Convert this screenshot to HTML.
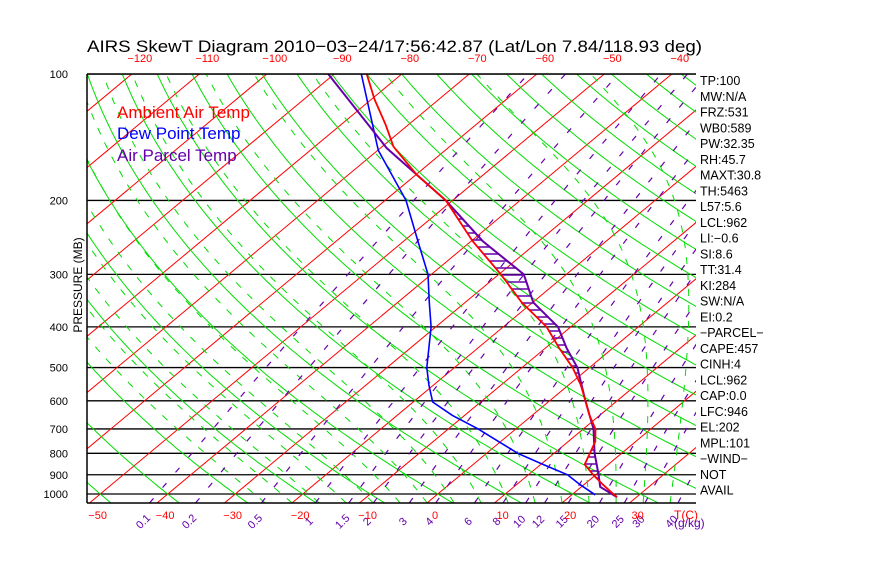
<!DOCTYPE html>
<html><head><meta charset="utf-8"><style>
body{margin:0;background:#fff}
svg text{font-family:"Liberation Sans",sans-serif}
</style></head><body>
<svg id="c" width="870" height="560" xmlns="http://www.w3.org/2000/svg">
<rect width="870" height="560" fill="#fff"/>
<defs><clipPath id="pc"><rect x="87" y="74" width="609" height="429"/></clipPath></defs>
<text x="87" y="52" font-size="17" textLength="615" lengthAdjust="spacingAndGlyphs">AIRS SkewT Diagram 2010−03−24/17:56:42.87 (Lat/Lon 7.84/118.93 deg)</text>
<g id="bg" clip-path="url(#pc)"></g>
<g id="prof" clip-path="url(#pc)"></g>
<g id="axes"></g>
<text x="117" y="118" font-size="17" fill="#f00">Ambient Air Temp</text>
<text x="117" y="139" font-size="17" fill="#00f">Dew Point Temp</text>
<text x="117" y="161" font-size="17" fill="#60a">Air Parcel Temp</text>
<text transform="translate(82,285) rotate(-90)" font-size="12" text-anchor="middle">PRESSURE (MB)</text>
</svg>
<script>
const envP=[1017,1000,950,900,850,800,750,700,650,600,550,500,450,400,350,300,250,200,174,149,132,115,100];
const envT=[27.1,26,22.8,19.6,16.5,15.3,14,11.8,8.5,5.3,1.8,-2.5,-7.9,-13.6,-21.6,-29.7,-39.8,-51,-59.8,-68.3,-73.4,-79.5,-85.2];
const dewP=[1005,950,900,850,800,700,650,604,550,500,400,350,300,250,200,152,100];
const dewT=[23.5,19.4,15.8,10.3,4.6,-5.6,-11.8,-17.1,-20.7,-24.1,-30.7,-35.3,-40.5,-47.9,-56.9,-69.9,-86];
const parP=[1017,962,900,800,700,600,500,450,400,350,300,250,200,150,125,100];
const parT=[27.1,22.8,20.4,16,11.5,5.3,-1.8,-6.8,-11.9,-19.9,-26.3,-38.3,-51,-69.1,-78.9,-90.9];
const topTicks=[-120,-110,-100,-90,-80,-70,-60,-50,-40];
const botTicks=[-50,-40,-30,-20,-10,0,10,20,30];
const presTicks=[100,200,300,400,500,600,700,800,900,1000];
const mixRatios=[0.1,0.2,0.5,1,1.5,2,3,4,6,8,10,12,15,20,25,30,40];
const mixLabels=["0.1","0.2","0.5","1","1.5","2","3","4","6","8","10","12","15","20","25","30","40"];
const stats=["TP:100","MW:N/A","FRZ:531","WB0:589","PW:32.35","RH:45.7","MAXT:30.8","TH:5463","L57:5.6","LCL:962","LI:−0.6","SI:8.6","TT:31.4","KI:284","SW:N/A","EI:0.2","−PARCEL−","CAPE:457","CINH:4","LCL:962","CAP:0.0","LFC:946","EL:202","MPL:101","−WIND−"," NOT","AVAIL"];

const NS="http://www.w3.org/2000/svg";
function yP(p){return 74+420*Math.log10(p/100);}
function xT(T,p){return 157+(T+40)*6.75+1.2*(503-yP(p));}
function mk(tag,attrs,parent){const e=document.createElementNS(NS,tag);for(const k in attrs)e.setAttribute(k,attrs[k]);parent.appendChild(e);return e;}
const bg=document.getElementById('bg'),prof=document.getElementById('prof'),ax=document.getElementById('axes');
function poly(pts,stroke,w,dash,parent,name){const e=mk('polyline',{points:pts.map(a=>a[0].toFixed(1)+','+a[1].toFixed(1)).join(' '),fill:'none',stroke:stroke,'stroke-width':w},parent);if(dash)e.setAttribute('stroke-dasharray',dash);return e;}
const ps=[];for(let lp=Math.log(1050);lp>=Math.log(95);lp-=0.02)ps.push(Math.exp(lp));
presTicks.forEach(p=>{const l=mk('line',{x1:87,x2:696,y1:yP(p),y2:yP(p),stroke:'#000','stroke-width':1.3},bg);});
for(let T=-150;T<=50;T+=10){poly([[xT(T,1050),yP(1050)],[xT(T,100),yP(100)]],'#f00',1,null,bg,'isotherm');}
for(let k=-8;k<=30;k++){const th=233.15+10*k;poly(ps.map(p=>{const T=th*Math.pow(p/1000,0.286)-273.15;return[xT(T,p),yP(p)];}),'#0d0',1,null,bg,'dry-adiabat');}
function es(T){return 6.112*Math.exp(17.67*T/(T+243.5));}
for(let T0=-24;T0<=40;T0+=4){let T=T0+273.15,p=1050,pts=[[xT(T0,1050),yP(1050)]];
 while(p>100){const dp=-5;const rs=0.622*es(T-273.15)/(p-es(T-273.15));
  const dTdp=(287*T+2.5e6*rs)/(p*(1004+2.5e6*2.5e6*rs*0.622/(287*T*T)));T+=dTdp*dp;p+=dp;pts.push([xT(T-273.15,p),yP(p)]);}
 poly(pts,'#0d0',1,'7,9',bg,'moist-adiabat');}
function tdW(w,p){const e=w*p/(622+w);const l=Math.log(e/6.112);return 243.5*l/(17.67-l);}
mixRatios.forEach((w,i)=>{poly(ps.map(p=>[xT(tdW(w,p),p),yP(p)]),'#60a',1.2,'6,14',bg,'mixing-ratio-line');
 const x=xT(tdW(w,1050),1050)-6;const t=mk('text',{x:x,y:525,'font-size':11,fill:'#60a','text-anchor':'middle',transform:`rotate(-45 ${x} 522)`},ax);t.textContent=mixLabels[i];});
function interp(P,T,p){for(let i=0;i<P.length-1;i++){if((p<=P[i]&&p>=P[i+1])){const f=(Math.log(p)-Math.log(P[i]))/(Math.log(P[i+1])-Math.log(P[i]));return T[i]+f*(T[i+1]-T[i]);}}return null;}
for(let y=205;y<=496;y+=7){const p=100*Math.pow(10,(y-74)/420);const te=interp(envP,envT,p),tp=interp(parP,parT,p);if(te!==null&&tp!==null&&tp>te+0.3){const l=mk('line',{x1:xT(te,p),x2:xT(tp,p),y1:y,y2:y,stroke:'#60a','stroke-width':1.5},prof);}}
poly(dewP.map((p,i)=>[xT(dewT[i],p),yP(p)]),'#00f',1.6,null,prof,'dew-point-line');
poly(parP.map((p,i)=>[xT(parT[i],p),yP(p)]),'#60a',2,null,prof,'parcel-line');
poly(envP.map((p,i)=>[xT(envT[i],p),yP(p)]),'#f00',1.8,null,prof,'temperature-line');
[[87,74,696,74],[87,74,87,503],[87,503,696,503]].forEach(a=>{const l=mk('line',{x1:a[0],y1:a[1],x2:a[2],y2:a[3],stroke:'#000','stroke-width':1.5},ax);});
presTicks.forEach(p=>{const t=mk('text',{x:68,y:yP(p)+4,'font-size':11,'text-anchor':'end'},ax);t.textContent=p;});
topTicks.forEach(T=>{const t=mk('text',{x:xT(T,100)+8,y:62,'font-size':11,fill:'#f00','text-anchor':'middle'},ax);t.textContent=String(T).replace('-','−');});
botTicks.forEach(T=>{const t=mk('text',{x:xT(T,1050)+8,y:519,'font-size':11,fill:'#f00','text-anchor':'middle'},ax);t.textContent=String(T).replace('-','−');});
{const t=mk('text',{x:674,y:519,'font-size':12,fill:'#f00'},ax);t.textContent='T(C)';}
{const t=mk('text',{x:674,y:527,'font-size':12,fill:'#60a'},ax);t.textContent='(g/kg)';}
stats.forEach((s,i)=>{const t=mk('text',{x:700,y:85+i*15.75,'font-size':12.5},ax);t.textContent=s;});
</script>
</body></html>
